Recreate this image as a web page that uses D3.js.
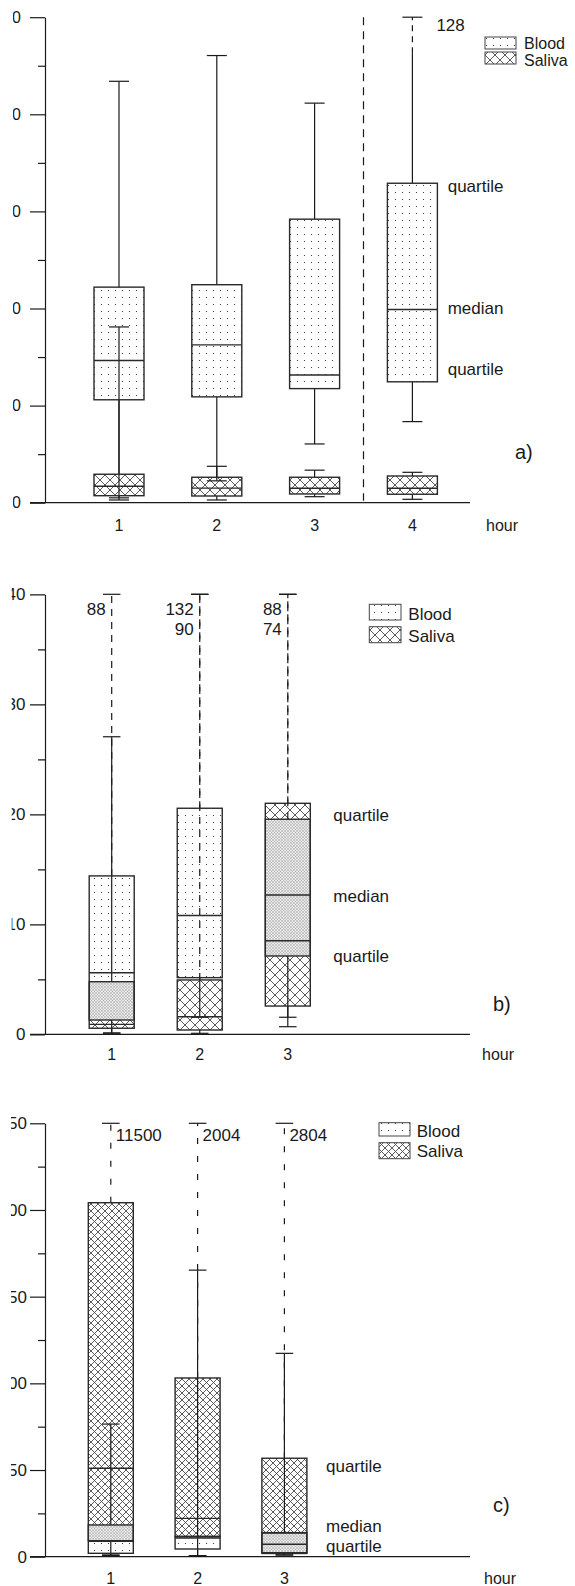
<!DOCTYPE html>
<html>
<head>
<meta charset="utf-8">
<script src="https://cdn.jsdelivr.net/npm/d3@7"></script>
<style>
  body { margin: 0; background: #fff; }
  svg { display: block; font-family: 'Liberation Sans', Arial, sans-serif; }
</style>
</head>
<body>
<svg id="chart" width="575" height="1586"></svg>
<script>
// ---- data ----
const legendLabels = ['Blood', 'Saliva']

// a)
const hoursA = [1, 2, 3, 4]
const yTicksA = [0, 10, 20, 30, 40, 50]
const bloodA = [
  { min: 0.5, q1: 10.6, med: 14.65, q3: 22.2, max: 43.4 },
  { min: 2.25, q1: 10.9, med: 16.25, q3: 22.45, max: 46.05 },
  { min: 6.05, q1: 11.75, med: 13.15, q3: 29.2, max: 41.15 },
  { min: 8.35, q1: 12.45, med: 19.9, q3: 32.9, max: 128 }
]
const bloodBreakA = [null, null, null, 46.3]
const salivaA = [
  { min: 0.28, q1: 0.72, med: 1.7, q3: 2.93, max: 18.1 },
  { min: 0.28, q1: 0.69, med: 1.5, q3: 2.62, max: 3.75 },
  { min: 0.62, q1: 0.9, med: 1.49, q3: 2.62, max: 3.35 },
  { min: 0.35, q1: 0.87, med: 1.49, q3: 2.75, max: 3.13 }
]
const statLabelsA = [
  { text: 'quartile', at: 32.55 },
  { text: 'median', at: 20.0 },
  { text: 'quartile', at: 13.75 }
]

// b)
const hoursB = [1, 2, 3]
const yTicksB = [0, 10, 20, 30, 40]
const bloodB = [
  { min: 0.12, q1: 1.3, med: 5.6, q3: 14.4, max: 88 },
  { min: 1.55, q1: 5.15, med: 10.8, q3: 20.55, max: 132 },
  { min: 1.55, q1: 7.12, med: 12.66, q3: 19.55, max: 88 }
]
const salivaB = [
  { min: 0.1, q1: 0.55, med: 0.9, q3: 4.78, max: 27.05 },
  { min: 0.09, q1: 0.39, med: 1.6, q3: 4.94, max: 90 },
  { min: 0.69, q1: 2.57, med: 8.51, q3: 21.0, max: 74 }
]
const statLabelsB = [
  { text: 'quartile', at: 19.9 },
  { text: 'median', at: 12.5 },
  { text: 'quartile', at: 7.05 }
]

// c)
const hoursC = [1, 2, 3]
const yTicksC = [0, 50, 100, 150, 200, 250]
const bloodC = [
  { min: 0.7, q1: 1.96, med: 8.9, q3: 18.3, max: 76.5 },
  { min: 0.6, q1: 4.44, med: 10.8, q3: 11.8, max: 165.3 },
  { min: 1.0, q1: 2.3, med: 7.15, q3: 13.9, max: 117.3 }
]
const salivaC = [
  { min: 1.0, q1: 9.23, med: 51.0, q3: 204.2, max: 11500 },
  { min: 0.6, q1: 11.5, med: 22.1, q3: 103.1, max: 2004 },
  { min: 1.0, q1: 1.85, med: 13.6, q3: 56.8, max: 2804 }
]
const statLabelsC = [
  { text: 'quartile', at: 51.9 },
  { text: 'median', at: 17.3 },
  { text: 'quartile', at: 5.8 }
]

// ---- layout ----
const panels = [
  {
    id: 'a', hours: hoursA, ticks: yTicksA, blood: bloodA, saliva: salivaA, brk: bloodBreakA, stats: statLabelsA,
    top: 17.2, bottom: 502.7, x0: 119, x1: 412.4, boxW: 50, capW: 20,
    tickFont: 16, tickPad: 9, clipX: 13, baseEnd: 470, xLabelY: 531, hourX: 486,
    hatch: 10, dash: '6,5', sep: true,
    legend: { x: 485, w: 31, textX: 524, font: 16, rows: [[37, 12, 49], [52, 12, 66]] },
    tag: { text: 'a)', x: 515, y: 459 }, statX: 447.7,
    out: { anchor: 'start', dx: 24, rows: [31, 51] }
  },
  {
    id: 'b', hours: hoursB, ticks: yTicksB, blood: bloodB, saliva: salivaB, brk: null, stats: statLabelsB,
    top: 594.3, bottom: 1034.3, x0: 111.7, x1: 287.8, boxW: 45, capW: 17.5,
    tickFont: 17, tickPad: 4.5, clipX: 11.7, baseEnd: 470, xLabelY: 1059.5, hourX: 482,
    hatch: 10, dash: '7,6', sep: false,
    legend: { x: 369.3, w: 31.7, textX: 408.3, font: 17, rows: [[604.3, 15.7, 620], [626.7, 16, 641.7]] },
    tag: { text: 'b)', x: 493, y: 1011 }, statX: 333.3,
    out: { anchor: 'end', dx: -6, rows: [615.4, 635] }
  },
  {
    id: 'c', hours: hoursC, ticks: yTicksC, blood: bloodC, saliva: salivaC, brk: null, stats: statLabelsC,
    top: 1123.3, bottom: 1556.7, x0: 110.8, x1: 284.4, boxW: 45, capW: 17.6,
    tickFont: 17, tickPad: 3, clipX: 11, baseEnd: 470, xLabelY: 1584, hourX: 484,
    hatch: 7, dash: '6,12', sep: false,
    legend: { x: 379, w: 31, textX: 416.7, font: 17, rows: [[1122.7, 13.3, 1136.7], [1142.7, 16, 1157.3]] },
    tag: { text: 'c)', x: 493, y: 1512 }, statX: 326,
    out: { anchor: 'start', dx: 5, rows: [1141, 1161] }
  }
]

const ink = '#1a1a1a'
const svg = d3.select('#chart')
const defs = svg.append('defs')

// fill patterns
const dots = defs.append('pattern').attr('id', 'dots')
  .attr('patternUnits', 'userSpaceOnUse').attr('width', 7).attr('height', 7)
dots.append('rect').attr('width', 7).attr('height', 7).attr('fill', '#fff')
dots.append('circle').attr('cx', 3.5).attr('cy', 3.5).attr('r', 0.6).attr('fill', '#222')

function hatch (id, s, color, bg, w) {
  const p = defs.append('pattern').attr('id', id)
    .attr('patternUnits', 'userSpaceOnUse').attr('width', s).attr('height', s)
  p.append('rect').attr('width', s).attr('height', s).attr('fill', bg)
  p.append('path')
    .attr('d', `M-1,-1L${s + 1},${s + 1}M${s + 1},-1L-1,${s + 1}`)
    .attr('stroke', color).attr('stroke-width', w)
}
hatch('mix', 3, '#a8a8a8', '#e8e8e8', 0.5)

function drawPanel (p) {
  const yTop = d3.max(p.ticks)
  const y = d3.scaleLinear().domain([0, yTop]).range([p.bottom, p.top])
  const x = d3.scaleLinear().domain(d3.extent(p.hours)).range([p.x0, p.x1])
  hatch('hatch-' + p.id, p.hatch, '#4a4a4a', '#fff', 0.9)
  const salFill = `url(#hatch-${p.id})`

  const g = svg.append('g')

  // y axis (labels cropped on the left like the scan)
  defs.append('clipPath').attr('id', 'clip-' + p.id)
    .append('rect').attr('x', p.clipX).attr('y', 0).attr('width', 575).attr('height', 1586)
  const axisWrap = g.append('g').attr('clip-path', `url(#clip-${p.id})`)
  const axisG = axisWrap.append('g')
    .attr('transform', 'translate(45,0)')
    .call(d3.axisLeft(y).tickValues(p.ticks).tickSizeInner(15).tickSizeOuter(0).tickPadding(p.tickPad))
  axisG.attr('font-size', p.tickFont).attr('font-family', null)
  axisG.selectAll('text').attr('fill', ink)
  axisG.selectAll('line, path').attr('stroke', ink).attr('stroke-width', 1.2)

  const minors = d3.pairs(p.ticks).map(([a, b]) => (a + b) / 2)
  const minorG = axisWrap.append('g')
    .attr('transform', 'translate(45,0)')
    .call(d3.axisLeft(y).tickValues(minors).tickSize(7).tickFormat(''))
  minorG.select('.domain').remove()
  minorG.selectAll('line').attr('stroke', ink).attr('stroke-width', 1.2)

  // baseline
  g.append('line')
    .attr('x1', 30).attr('x2', p.baseEnd)
    .attr('y1', y(0)).attr('y2', y(0))
    .attr('stroke', ink).attr('stroke-width', 1.2)

  // x labels
  g.selectAll('.xl').data(p.hours).join('text')
    .attr('class', 'xl')
    .attr('x', d => x(d)).attr('y', p.xLabelY)
    .attr('text-anchor', 'middle').attr('font-size', 16).attr('fill', ink)
    .text(d => d)
  g.append('text').attr('x', p.hourX).attr('y', p.xLabelY)
    .attr('font-size', 16).attr('fill', ink).text('hour')

  if (p.sep) {
    g.append('line')
      .attr('x1', x(3.5)).attr('x2', x(3.5))
      .attr('y1', y(yTop)).attr('y2', y(0) - 2)
      .attr('stroke', ink).attr('stroke-width', 1.2).attr('stroke-dasharray', '8,6')
  }

  const rows = p.hours.map((h, i) => ({
    cx: x(h), b: p.blood[i], s: p.saliva[i], brk: p.brk ? p.brk[i] : null
  }))

  const boxRect = (sel, key) => sel
    .attr('x', d => d.cx - p.boxW / 2).attr('width', p.boxW)
    .attr('y', d => y(d[key].q3)).attr('height', d => y(d[key].q1) - y(d[key].q3))

  // fills
  g.selectAll('.sfill').data(rows).join('rect').attr('class', 'sfill')
    .call(boxRect, 's').attr('fill', salFill)
  g.selectAll('.bfill').data(rows).join('rect').attr('class', 'bfill')
    .call(boxRect, 'b').attr('fill', 'url(#dots)')
  const overlaps = rows.map(d => ({
    cx: d.cx, lo: Math.max(d.b.q1, d.s.q1), hi: Math.min(d.b.q3, d.s.q3)
  })).filter(d => d.hi > d.lo)
  g.selectAll('.ofill').data(overlaps).join('rect').attr('class', 'ofill')
    .attr('x', d => d.cx - p.boxW / 2).attr('width', p.boxW)
    .attr('y', d => y(d.hi)).attr('height', d => y(d.lo) - y(d.hi))
    .attr('fill', 'url(#mix)')

  // whiskers
  const segs = []
  const caps = []
  const outLabels = []
  rows.forEach(d => {
    [['b', d.brk], ['s', null]].forEach(([key, brk]) => {
      const st = d[key]
      if (st.max > yTop) {
        const from = brk != null ? brk : st.q3
        if (brk != null) segs.push({ x: d.cx, v1: st.q3, v2: brk, dashed: false })
        segs.push({ x: d.cx, v1: from, v2: yTop, dashed: true })
        caps.push({ x: d.cx, v: yTop })
        outLabels.push({ x: d.cx, text: st.max })
      } else {
        segs.push({ x: d.cx, v1: st.q3, v2: st.max, dashed: false })
        caps.push({ x: d.cx, v: st.max })
      }
      segs.push({ x: d.cx, v1: st.q1, v2: st.min, dashed: false })
      caps.push({ x: d.cx, v: st.min })
    })
  })
  segs.sort((a, b) => b.dashed - a.dashed)
  g.selectAll('.seg').data(segs).join('line').attr('class', 'seg')
    .attr('x1', d => d.x).attr('x2', d => d.x)
    .attr('y1', d => y(d.v1)).attr('y2', d => y(d.v2))
    .attr('stroke', ink).attr('stroke-width', 1.2)
    .attr('stroke-dasharray', d => d.dashed ? p.dash : null)
  g.selectAll('.cap').data(caps).join('line').attr('class', 'cap')
    .attr('x1', d => d.x - p.capW / 2).attr('x2', d => d.x + p.capW / 2)
    .attr('y1', d => y(d.v)).attr('y2', d => y(d.v))
    .attr('stroke', ink).attr('stroke-width', 1.2)

  // off-scale values
  const byX = d3.group(outLabels, d => d.x)
  byX.forEach(list => list.forEach((d, k) => {
    g.append('text')
      .attr('x', d.x + p.out.dx).attr('y', p.out.rows[k])
      .attr('text-anchor', p.out.anchor).attr('font-size', 17).attr('fill', ink)
      .text(d.text)
  }))

  // outlines and medians
  ;['s', 'b'].forEach(key => {
    g.selectAll('.out' + key).data(rows).join('rect').attr('class', 'out' + key)
      .call(boxRect, key).attr('fill', 'none')
      .attr('stroke', '#2a2a2a').attr('stroke-width', 1.4)
    g.selectAll('.med' + key).data(rows).join('line').attr('class', 'med' + key)
      .attr('x1', d => d.cx - p.boxW / 2).attr('x2', d => d.cx + p.boxW / 2)
      .attr('y1', d => y(d[key].med)).attr('y2', d => y(d[key].med))
      .attr('stroke', '#2a2a2a').attr('stroke-width', 1.4)
  })

  // quartile / median labels
  g.selectAll('.stat').data(p.stats).join('text').attr('class', 'stat')
    .attr('x', p.statX).attr('y', d => y(d.at)).attr('dy', '0.32em')
    .attr('font-size', 17).attr('fill', ink)
    .text(d => d.text)

  // legend
  const lg = g.append('g')
  legendLabels.forEach((name, k) => {
    const [ry, rh, base] = p.legend.rows[k]
    lg.append('rect')
      .attr('x', p.legend.x).attr('y', ry).attr('width', p.legend.w).attr('height', rh)
      .attr('fill', k === 0 ? 'url(#dots)' : salFill)
      .attr('stroke', '#444').attr('stroke-width', 1)
    lg.append('text')
      .attr('x', p.legend.textX).attr('y', base)
      .attr('font-size', p.legend.font).attr('fill', ink)
      .text(name)
  })

  g.append('text').attr('x', p.tag.x).attr('y', p.tag.y)
    .attr('font-size', 20).attr('fill', ink).text(p.tag.text)
}

panels.forEach(drawPanel)
</script>
</body>
</html>
